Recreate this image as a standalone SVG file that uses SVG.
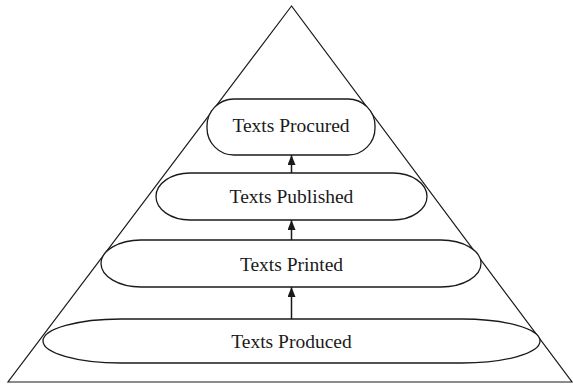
<svg xmlns="http://www.w3.org/2000/svg" width="573" height="386" viewBox="0 0 573 386">
  <style>
    .frame { fill: none; stroke: #1a1a1a; stroke-width: 1.2; }
    .stage { fill: #ffffff; stroke: #1a1a1a; stroke-width: 1.3; }
    .label { font-family: "Liberation Serif", "Times New Roman", serif; font-size: 19.5px; fill: #1a1a1a; text-anchor: middle; }
    .link { stroke: #1a1a1a; stroke-width: 1.5; fill: none; marker-end: url(#head); }
  </style>
  <defs>
    <marker id="head" viewBox="0 0 10 8" refX="10" refY="4" markerWidth="10" markerHeight="8" markerUnits="userSpaceOnUse" orient="auto">
      <path d="M0,0 L10,4 L0,8 Z" fill="#1a1a1a"/>
    </marker>
  </defs>
  <rect width="573" height="386" fill="#ffffff"/>

  <!-- enclosing pyramid -->
  <path class="frame" d="M291.5,6 L8,382 L572,382 Z"/>

  <g id="texts-produced">
    <rect class="stage" x="43" y="319" width="497" height="44" rx="78" ry="22"/>
    <text class="label" x="291.5" y="348">Texts Produced</text>
  </g>
  <g id="texts-printed">
    <rect class="stage" x="101" y="240" width="380" height="47" rx="40" ry="23.5"/>
    <text class="label" x="291.5" y="271">Texts Printed</text>
  </g>
  <g id="texts-published">
    <rect class="stage" x="156" y="173" width="271" height="47" rx="34" ry="23.5"/>
    <text class="label" x="291.5" y="203">Texts Published</text>
  </g>
  <g id="texts-procured">
    <rect class="stage" x="207" y="99" width="168" height="56" rx="27" ry="27"/>
    <text class="label" x="291" y="132">Texts Procured</text>
  </g>

  <g id="connectors">
    <line class="link" x1="291.5" y1="319" x2="291.5" y2="287"/>
    <line class="link" x1="291.5" y1="240" x2="291.5" y2="220"/>
    <line class="link" x1="291.5" y1="173" x2="291.5" y2="155"/>
  </g>
</svg>
